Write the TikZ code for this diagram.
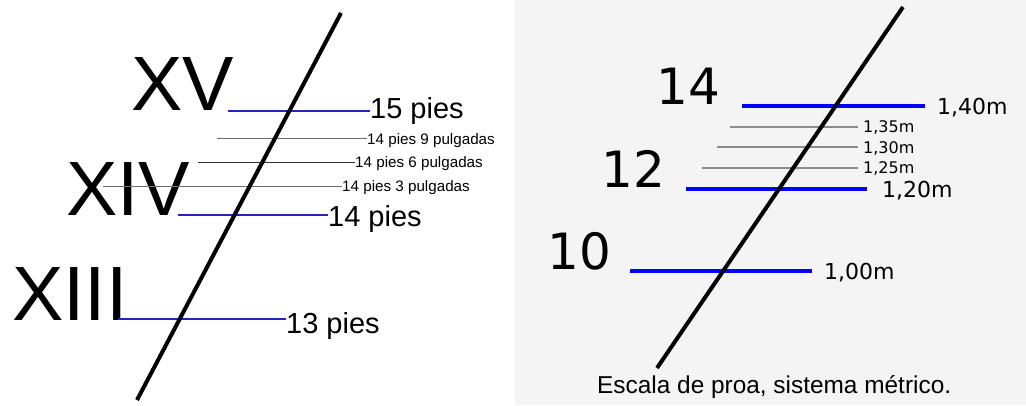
\documentclass[tikz,border=0pt]{standalone}
\usepackage{fontspec}
\setmainfont{Liberation Sans}
\newfontfamily\dejavu{DejaVu Sans}
\usetikzlibrary{calc}
\definecolor{cnavy}{HTML}{2424C0}
\definecolor{cblue}{HTML}{0000FF}
\definecolor{cgray}{HTML}{6E6E6E}
\definecolor{clight}{HTML}{8C8C8C}
\definecolor{cpanel}{HTML}{F4F4F4}

\begin{document}
\begin{tikzpicture}[x=1pt, y=-1pt,
  roman/.style={anchor=base west, inner sep=0pt, font=\fontsize{77}{77}\selectfont},
  feet/.style={anchor=base west, inner sep=0pt, font=\fontsize{29}{29}\selectfont},
  inch/.style={anchor=base west, inner sep=0pt, font=\fontsize{15.2}{15.2}\selectfont},
  arabic/.style={anchor=base west, inner sep=0pt, font=\dejavu\fontsize{50}{50}\selectfont},
  metre/.style={anchor=base west, inner sep=0pt, font=\dejavu\fontsize{22}{22}\selectfont},
  centi/.style={anchor=base west, inner sep=0pt, font=\dejavu\fontsize{16}{16}\selectfont},
  stem/.style={line width=4pt, black},
  footline/.style={line width=2pt, cnavy},
  inchline/.style={line width=1pt, cgray},
  metreline/.style={line width=4pt, cblue},
  centiline/.style={line width=1.5pt, clight}]
  \useasboundingbox (0,0) rectangle (1026,405);
  \fill[white] (0,0) rectangle (515,405);
  \fill[cpanel] (515,0) rectangle (1026,405);

  % Imperial scale (left)
  \node[roman] (xv) at (131,110) {XV};
  \node[roman] (xiv) at (66,215) {XIV};
  \node[roman] (xiii) at (12,320) {XIII};

  \node[feet] (l15) at (370,118) {15 pies};
  \node[inch] (l149) at (367,144) {14 pies 9 pulgadas};
  \node[inch] (l146) at (355,167) {14 pies 6 pulgadas};
  \node[inch] (l143) at (342,191) {14 pies 3 pulgadas};
  \node[feet] (l14) at (328,226) {14 pies};
  \node[feet] (l13) at (286,333) {13 pies};

  \coordinate (s15) at (228,111);
  \coordinate (s149) at (217,138);
  \coordinate (s146) at (198,162);
  \coordinate (s143) at (103,186);
  \coordinate (s14) at (178,215);
  \coordinate (s13) at (118,319);
  \coordinate (atop) at (341,13);
  \coordinate (abot) at (137,400);

  \draw[footline] (s15) -- (s15 -| l15.west);
  \draw[inchline] (s149) -- (s149 -| l149.west);
  \draw[inchline, black!80] (s146) -- (s146 -| l146.west);
  \draw[inchline] (s143) -- (s143 -| l143.west);
  \draw[footline] (s14) -- (s14 -| l14.west);
  \draw[footline] (s13) -- (s13 -| l13.west);
  \draw[stem] (atop) -- (abot);

  % Metric scale (right)
  \node[arabic] (n14) at (656,104) {14};
  \node[arabic] (n12) at (601,187) {12};
  \node[arabic] (n10) at (547,269) {10};

  \node[metre, inner xsep=12pt] (l140) at (925,114) {1,40m};
  \node[centi, inner xsep=5pt] (l135) at (858,132) {1,35m};
  \node[centi, inner xsep=5pt] (l130) at (858,153) {1,30m};
  \node[centi, inner xsep=5pt] (l125) at (858,173) {1,25m};
  \node[metre, inner xsep=15pt] (l120) at (867,197) {1,20m};
  \node[metre, inner xsep=12pt] (l100) at (812,279) {1,00m};

  \coordinate (m140) at (742,106);
  \coordinate (m135) at (730,127);
  \coordinate (m130) at (717,147);
  \coordinate (m125) at (702,168);
  \coordinate (m120) at (686,189);
  \coordinate (m100) at (630,271);
  \coordinate (btop) at (903,7);
  \coordinate (bbot) at (657,368);

  \draw[metreline] (m140) -- (m140 -| l140.west);
  \draw[centiline] (m135) -- (m135 -| l135.west);
  \draw[centiline] (m130) -- (m130 -| l130.west);
  \draw[centiline] (m125) -- (m125 -| l125.west);
  \draw[metreline] (m120) -- (m120 -| l120.west);
  \draw[metreline] (m100) -- (m100 -| l100.west);
  \draw[stem] (btop) -- (bbot);

  \node[anchor=base west, inner sep=0pt, font=\fontsize{24.4}{24.4}\selectfont] (caption) at (597,393) {Escala de proa, sistema métrico.};
\end{tikzpicture}
\end{document}
